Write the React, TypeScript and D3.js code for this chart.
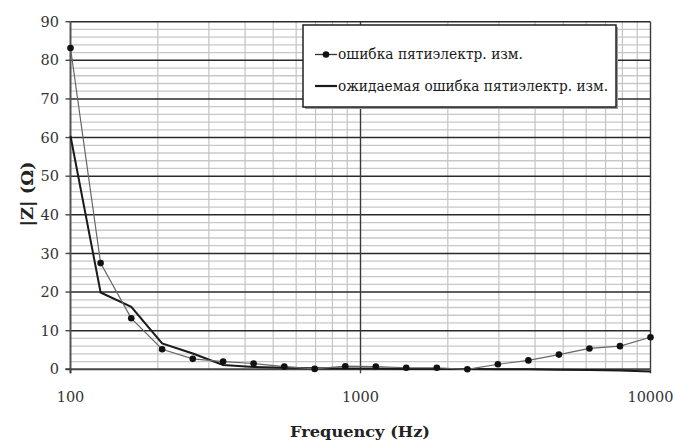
import React from "react";
import * as d3 from "d3";

const frequencies = [100, 127, 162, 207, 264, 336, 428, 546, 695, 886, 1129, 1438, 1833, 2336, 2976, 3793, 4833, 6158, 7848, 10000];
const measured = [83.2, 27.5, 13.2, 5.2, 2.7, 2.0, 1.5, 0.7, 0.1, 0.8, 0.7, 0.4, 0.4, 0.0, 1.3, 2.3, 3.8, 5.4, 6.0, 8.3];
const expected = [60.4, 19.9, 16.2, 6.7, 4.1, 1.1, 0.6, 0.4, 0.3, 0.2, 0.2, 0.1, 0.1, 0.1, 0.0, 0.0, -0.1, -0.2, -0.3, -0.6];
const yTicks = [0, 10, 20, 30, 40, 50, 60, 70, 80, 90];
const xTicks = [100, 1000, 10000];
const legendLabels = ["ошибка пятиэлектр. изм.", "ожидаемая ошибка пятиэлектр. изм."];

const W = 673, H = 441;
const left = 70.5, right = 650.5, top = 21.7, bottom = 369.3;

export default function App() {
  const x = d3.scaleLog().domain([100, 10000]).range([left, right]);
  const y = d3.scaleLinear().domain([0, 90]).range([bottom, top]);
  const minorY = d3.range(0, 91, 2).filter((v) => v % 10 !== 0);
  const minorX: number[] = [];
  for (const dec of [100, 1000]) for (let k = 2; k <= 9; k++) minorX.push(dec * k);
  const line = d3.line<number>().x((_, i) => x(frequencies[i])).y((d) => y(d));
  const font = "DejaVu Serif, Liberation Serif, serif";

  return (
    <svg width={W} height={H} style={{ position: "absolute", left: 0, top: 0, background: "#fff", fontFamily: font }}>
      {minorY.map((v) => (
        <line key={"my" + v} x1={left} x2={right} y1={y(v)} y2={y(v)} stroke="#c8c8c8" strokeWidth={1.3} />
      ))}
      {minorX.map((v) => (
        <line key={"mx" + v} x1={x(v)} x2={x(v)} y1={top} y2={bottom} stroke="#c4c4c4" strokeWidth={1.2} />
      ))}
      {yTicks.filter((v) => v > 0).map((v) => (
        <line key={"My" + v} x1={left} x2={right} y1={y(v)} y2={y(v)} stroke="#2a2a2a" strokeWidth={1.4} />
      ))}
      {xTicks.filter((v) => v > 100).map((v) => (
        <line key={"Mx" + v} x1={x(v)} x2={x(v)} y1={top} y2={bottom} stroke="#3a3a3a" strokeWidth={1.4} />
      ))}
      <line x1={left} x2={left} y1={top} y2={bottom + 4} stroke="#555" strokeWidth={2} />
      <line x1={left - 5} x2={right} y1={bottom} y2={bottom} stroke="#444" strokeWidth={2} />
      {yTicks.map((v) => (
        <line key={"t" + v} x1={left - 5} x2={left} y1={y(v)} y2={y(v)} stroke="#444" strokeWidth={1.4} />
      ))}
      {xTicks.map((v) => (
        <line key={"xt" + v} x1={x(v)} x2={x(v)} y1={bottom} y2={bottom + 4} stroke="#444" strokeWidth={1.4} />
      ))}
      <path d={line(expected) || ""} fill="none" stroke="#1a1a1a" strokeWidth={2} />
      <path d={line(measured) || ""} fill="none" stroke="#666" strokeWidth={1.2} />
      {measured.map((v, i) => (
        <circle key={"c" + i} cx={x(frequencies[i])} cy={y(v)} r={3.3} fill="#111" />
      ))}
      {yTicks.map((v) => (
        <text key={"yl" + v} x={59} y={y(v)} dy="0.35em" textAnchor="end" fontSize={14.5} fill="#333">{v}</text>
      ))}
      {xTicks.map((v) => (
        <text key={"xl" + v} x={x(v)} y={397} dy="0.35em" textAnchor="middle" fontSize={14.5} fill="#333">{v}</text>
      ))}
      <text x={360} y={432} dy="0.35em" textAnchor="middle" fontSize={15} fontWeight="bold" fill="#222" textLength={140} lengthAdjust="spacingAndGlyphs">Frequency (Hz)</text>
      <text transform={`translate(27,194) rotate(-90)`} dy="0.35em" textAnchor="middle" fontSize={16} fontWeight="bold" fill="#222" textLength={65} lengthAdjust="spacingAndGlyphs">|Z| (Ω)</text>
      <rect x={305} y={27} width={313} height={82} fill="#999" />
      <rect x={303} y={25} width={313} height={82} fill="#fff" stroke="#222" strokeWidth={1.5} />
      <line x1={315} x2={337} y1={54.5} y2={54.5} stroke="#333" strokeWidth={1.3} />
      <circle cx={326} cy={54.5} r={3.3} fill="#111" />
      <text x={338} y={54.5} dy="0.35em" fontSize={14} fill="#1a1a1a" textLength={185} lengthAdjust="spacingAndGlyphs">{legendLabels[0]}</text>
      <line x1={315} x2={337} y1={86} y2={86} stroke="#1a1a1a" strokeWidth={2.2} />
      <text x={338} y={86} dy="0.35em" fontSize={14} fill="#1a1a1a" textLength={270} lengthAdjust="spacingAndGlyphs">{legendLabels[1]}</text>
    </svg>
  );
}
